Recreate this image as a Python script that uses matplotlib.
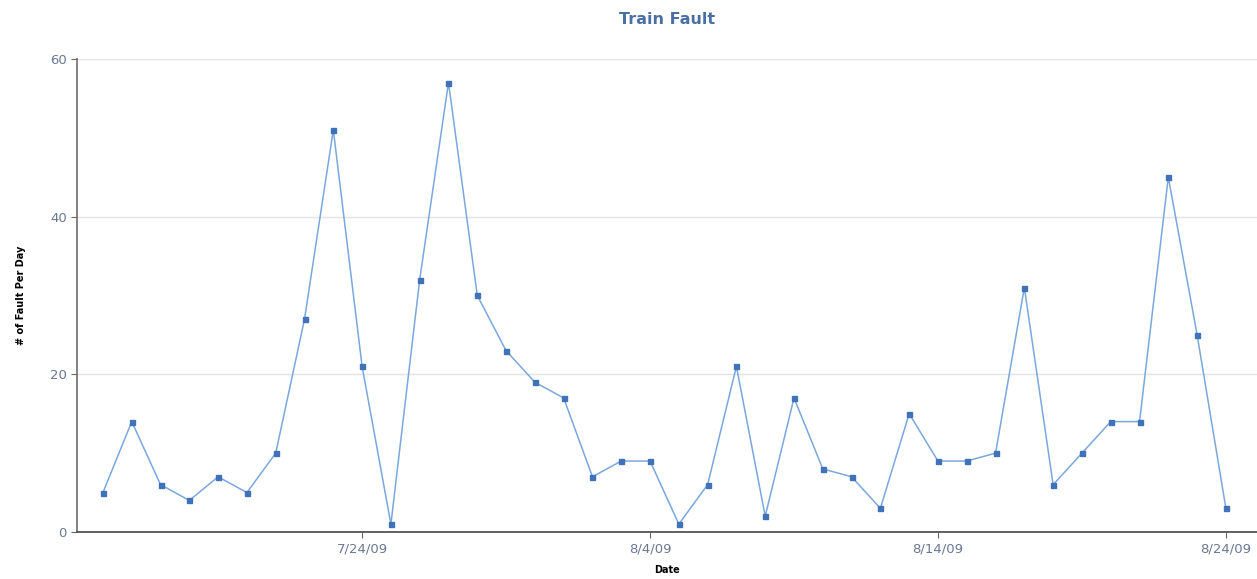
import matplotlib
matplotlib.use("Agg")
import matplotlib.pyplot as plt

# daily fault counts, one point per reporting day
faults = [5, 14, 6, 4, 7, 5, 10, 27, 51, 21,
          1, 32, 57, 30, 23, 19, 17, 7, 9, 9,
          1, 6, 21, 2, 17, 8, 7, 3, 15, 9,
          9, 10, 31, 6, 10, 14, 14, 45, 25, 3]
tick_pos = [9, 19, 29, 39]
tick_labels = ["7/24/09", "8/4/09", "8/14/09", "8/24/09"]
y_ticks = [0, 20, 40, 60]

fig = plt.figure(figsize=(12.57, 5.79), dpi=100)
ax = fig.add_axes([0.0613, 0.0812, 0.9387, 0.8170])

ax.plot(range(len(faults)), faults, color="#7aa7dc", linewidth=1.1, zorder=3)
ax.plot(range(len(faults)), faults, linestyle="none", marker="s", markersize=3.6,
        color="#3f72b8", zorder=4)

ax.set_xlim(-0.90, 40.08)
ax.set_ylim(0, 60)
ax.set_yticks(y_ticks)
ax.set_xticks(tick_pos)
ax.set_xticklabels(tick_labels)
ax.grid(axis="y", color="#e3e3e3", linewidth=1)
ax.set_axisbelow(True)

for side in ["top", "right"]:
    ax.spines[side].set_visible(False)
ax.spines["left"].set_color("#777777")
ax.spines["bottom"].set_color("#555555")
ax.spines["left"].set_linewidth(1.3)
ax.spines["bottom"].set_linewidth(1.3)
ax.tick_params(colors="#666666", labelcolor="#6b7890", labelsize=9.5, length=4)

ax.set_title("Train Fault", fontsize=11.5, fontweight="bold", color="#4a6fa5", pad=25)
ax.set_xlabel("Date", fontsize=7, fontweight="bold", labelpad=7)
ax.set_ylabel("# of Fault Per Day", fontsize=7, fontweight="bold", labelpad=17)

plt.savefig("out.png", dpi=100)
